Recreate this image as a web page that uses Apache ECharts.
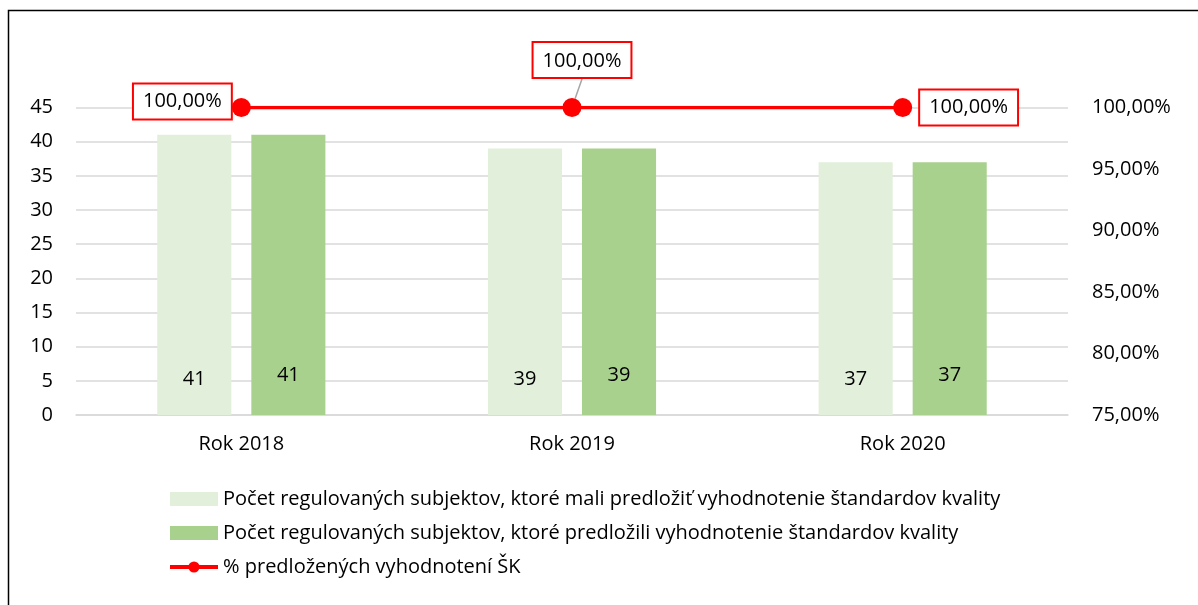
<!DOCTYPE html>
<html>
<head>
<meta charset="utf-8">
<script src="https://cdn.jsdelivr.net/npm/echarts@6/dist/echarts.min.js"></script>
<style>
  html, body { margin: 0; padding: 0; background: #fff; }
  #main { width: 1198px; height: 605px; }
</style>
</head>
<body>
<div id="main"></div>
<script>
// data
var years = ['Rok 2018', 'Rok 2019', 'Rok 2020'];
var mali = [41, 39, 37];
var predlozili = [41, 39, 37];
var percent = [1.0, 1.0, 1.0];
var seriesNames = [
  'Počet regulovaných subjektov, ktoré mali predložiť vyhodnotenie štandardov kvality',
  'Počet regulovaných subjektov, ktoré predložili vyhodnotenie štandardov kvality',
  '% predložených vyhodnotení ŠK'
];

var FONT = 'Open Sans';
var FS = 20;

function pct(v) {
  return (v * 100).toFixed(2).replace('.', ',') + '%';
}

var myChart = echarts.init(document.getElementById('main'));

// label placement of the percentage points (left / above / right)
var pctLabelPos = ['left', 'top', 'right'];
var lineData = percent.map(function (v, i) {
  var p = pctLabelPos[i];
  return {
    value: v,
    label: {
      position: p,
      distance: p == 'left' ? 1 : (p == 'top' ? 5 : 8)
    },
    labelLine: { show: p == 'top' }
  };
});

var option = {
  animation: false,
  textStyle: { fontFamily: FONT },
  graphic: [{
    type: 'rect',
    shape: { x: 8.5, y: 10.5, width: 1300, height: 700 },
    style: { fill: 'none', stroke: '#000', lineWidth: 1.5 },
    silent: true
  }],
  legend: {
    orient: 'vertical',
    left: 163,
    top: 484,
    itemWidth: 48,
    itemHeight: 14,
    itemGap: 14,
    textStyle: { fontFamily: FONT, fontSize: FS, color: '#000' },
    data: [
      { name: seriesNames[0], icon: 'rect' },
      { name: seriesNames[1], icon: 'rect' },
      { name: seriesNames[2], lineStyle: { width: 4 } }
    ]
  },
  grid: { left: 76, right: 130, top: 107.5, bottom: 190 },
  xAxis: [{
    type: 'category',
    data: years,
    axisLine: { lineStyle: { color: '#d9d9d9', width: 1.5 } },
    axisTick: { show: false },
    axisLabel: { fontFamily: FONT, fontSize: FS, color: '#000', margin: 19 }
  }],
  yAxis: [{
    type: 'value',
    min: 0,
    max: 45,
    interval: 5,
    axisLine: { show: false },
    axisTick: { show: false },
    axisLabel: { fontFamily: FONT, fontSize: FS, color: '#000', margin: 23 },
    splitLine: { lineStyle: { color: '#d9d9d9', width: 1.5 } }
  }, {
    type: 'value',
    min: 0.75,
    max: 1.0,
    interval: 0.05,
    axisLine: { show: false },
    axisTick: { show: false },
    splitLine: { show: false },
    axisLabel: {
      fontFamily: FONT, fontSize: FS, color: '#000', margin: 24,
      formatter: pct
    }
  }],
  series: [{
    name: seriesNames[0],
    type: 'bar',
    data: mali,
    barWidth: '22.4%',
    barGap: '27%',
    itemStyle: { color: '#e2efda' },
    label: {
      show: true,
      position: 'insideBottom',
      distance: 26,
      fontFamily: FONT, fontSize: FS, color: '#000'
    }
  }, {
    name: seriesNames[1],
    type: 'bar',
    data: predlozili,
    barWidth: '22.4%',
    itemStyle: { color: '#a9d18e' },
    label: {
      show: true,
      position: 'insideBottom',
      distance: 30,
      fontFamily: FONT, fontSize: FS, color: '#000'
    }
  }, {
    name: seriesNames[2],
    type: 'line',
    yAxisIndex: 1,
    data: lineData,
    symbol: 'circle',
    symbolSize: 19,
    itemStyle: { color: '#ff0000' },
    lineStyle: { color: '#ff0000', width: 3.5 },
    z: 5,
    label: {
      show: true,
      formatter: function (p) { return pct(p.value); },
      fontFamily: FONT, fontSize: FS, color: '#000',
      backgroundColor: '#fff',
      borderColor: '#ff0000',
      borderWidth: 2,
      padding: [8, 9, 6, 9]
    },
    labelLine: {
      lineStyle: { color: '#a6a6a6', width: 1.5 }
    },
    labelLayout: function (params) {
      if (params.dataIndex === 0) {
        return { dy: -6 };
      }
      if (params.dataIndex === 1) {
        return { dx: 10, dy: -16 };
      }
      return {};
    }
  }]
};
myChart.setOption(option);
</script>
</body>
</html>
